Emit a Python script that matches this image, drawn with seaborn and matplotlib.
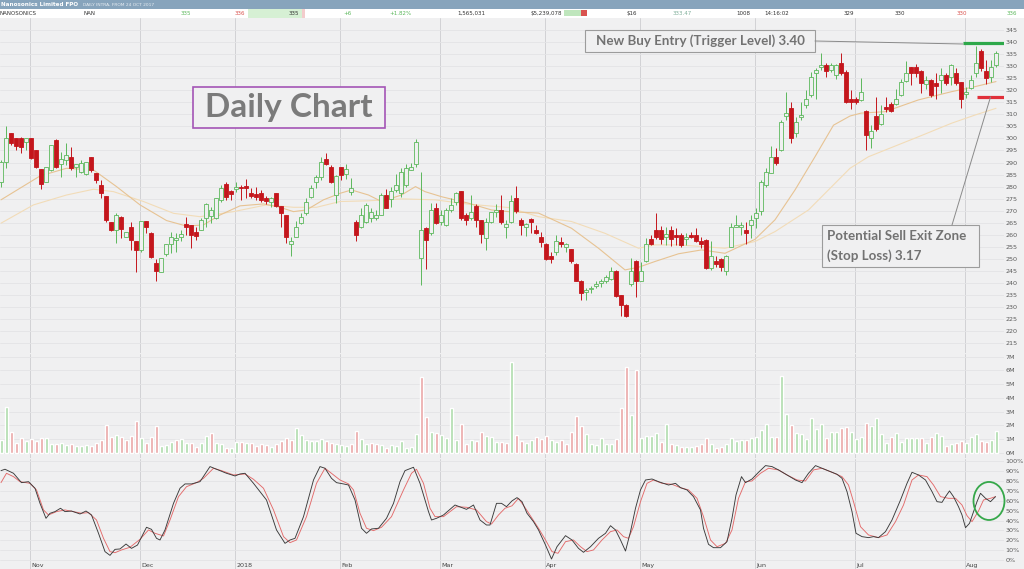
import matplotlib
matplotlib.use('Agg')
import matplotlib.pyplot as plt
import seaborn as sns
import numpy as np
from matplotlib.patches import Rectangle, Ellipse
from matplotlib.lines import Line2D

# ---- data (daily, 24 Oct 2017 .. 8 Aug 2018) ----
opens = [
    282.0, 290.4, 302.4, 300.0, 300.3, 298.7, 300.3, 295.2, 287.2, 282.1,
    286.9, 299.4, 289.4, 291.0, 292.2, 288.3, 286.2, 285.2, 292.2, 285.8,
    280.7, 276.1, 265.1, 262.0, 267.3, 259.2, 263.4, 257.2, 253.7, 265.9,
    260.6, 248.2, 244.7, 252.1, 256.2, 257.9, 259.2, 264.4, 264.1, 261.3,
    262.0, 266.9, 267.6, 266.9, 274.5, 281.1, 278.3, 278.9, 280.0, 280.3,
    277.2, 276.9, 277.2, 275.4, 273.8, 277.2, 272.0, 268.2, 256.2, 259.2,
    265.0, 268.9, 275.8, 282.1, 284.1, 291.3, 288.3, 276.5, 288.3, 285.1,
    277.9, 265.5, 263.4, 265.2, 266.9, 267.1, 268.2, 276.3, 274.9, 278.6,
    277.2, 280.7, 286.9, 289.3, 250.3, 263.0, 260.6, 271.3, 265.2, 264.1,
    270.3, 273.8, 278.2, 268.2, 267.1, 272.1, 266.2, 258.8, 265.2, 269.6,
    270.3, 263.4, 265.1, 275.2, 266.2, 263.4, 266.4, 262.0, 259.0, 256.2,
    251.2, 253.0, 257.0, 255.1, 254.0, 247.9, 241.0, 236.3, 237.4, 238.8,
    239.9, 241.0, 241.5, 245.1, 235.0, 230.9, 239.6, 248.9, 241.0, 248.9,
    258.1, 262.0, 262.0, 259.0, 262.0, 259.9, 260.0, 258.1, 259.9, 259.9,
    257.2, 257.9, 246.1, 249.3, 249.8, 245.1, 255.1, 263.4, 263.4, 262.0,
    264.1, 266.9, 270.0, 280.7, 285.8, 292.2, 295.2, 309.3, 312.5, 302.1,
    308.8, 313.9, 318.0, 327.0, 329.8, 330.5, 328.4, 326.3, 331.2, 327.7,
    316.2, 316.2, 316.0, 311.5, 300.0, 309.3, 306.0, 313.2, 314.3, 314.3,
    318.0, 324.0, 329.5, 329.5, 328.1, 322.6, 324.3, 322.9, 324.3, 326.3,
    325.4, 327.3, 323.6, 318.4, 320.8, 327.0, 336.4, 328.1, 325.4, 330.5,
]
highs = [
    291.0, 305.2, 302.4, 300.0, 300.7, 300.0, 300.3, 295.2, 287.2, 288.3,
    297.3, 299.6, 294.5, 298.0, 296.6, 289.3, 291.0, 290.4, 292.2, 285.8,
    282.8, 276.1, 265.1, 268.9, 267.6, 261.3, 265.5, 257.2, 265.9, 265.9,
    261.3, 249.8, 250.3, 256.2, 261.3, 260.6, 262.0, 267.3, 264.1, 263.4,
    266.9, 273.1, 271.7, 275.2, 280.7, 282.1, 278.6, 282.1, 280.7, 283.0,
    279.3, 280.0, 278.6, 276.1, 275.8, 277.2, 272.0, 268.2, 259.2, 265.9,
    268.9, 275.2, 280.7, 284.8, 292.2, 294.1, 289.0, 285.0, 288.3, 289.3,
    283.5, 266.2, 271.0, 273.1, 271.0, 270.3, 277.2, 279.0, 280.0, 285.1,
    287.6, 289.3, 289.7, 299.8, 286.0, 263.4, 273.1, 273.1, 270.3, 271.0,
    275.2, 277.9, 278.2, 268.9, 276.3, 272.7, 266.2, 266.9, 269.6, 272.8,
    276.3, 266.2, 276.5, 280.3, 266.9, 264.8, 266.9, 264.1, 261.3, 256.5,
    253.0, 259.9, 259.0, 256.5, 254.0, 248.2, 241.3, 237.8, 238.8, 240.6,
    241.6, 243.3, 246.8, 245.4, 235.0, 231.3, 250.3, 249.6, 248.5, 258.6,
    259.9, 269.2, 263.7, 263.4, 263.7, 262.7, 260.6, 260.6, 261.3, 262.7,
    259.0, 258.1, 257.2, 251.0, 250.3, 251.6, 264.8, 268.2, 265.5, 265.5,
    268.2, 271.0, 282.8, 287.6, 296.9, 295.9, 307.6, 319.4, 315.3, 309.0,
    315.3, 320.1, 327.7, 329.1, 335.6, 331.2, 331.2, 330.9, 335.3, 328.4,
    320.1, 317.1, 324.9, 311.8, 305.6, 317.3, 313.9, 317.1, 315.3, 320.4,
    324.5, 332.3, 329.8, 330.9, 328.4, 325.9, 324.5, 327.0, 329.1, 327.0,
    330.9, 329.1, 323.6, 321.5, 326.3, 338.4, 337.0, 332.6, 332.6, 336.4,
]
lows = [
    280.0, 287.6, 297.3, 295.2, 294.1, 295.2, 291.3, 287.6, 278.9, 281.7,
    286.6, 287.6, 284.1, 289.0, 286.9, 284.1, 285.5, 284.8, 286.2, 281.4,
    275.2, 265.5, 261.7, 256.5, 258.6, 259.0, 253.7, 244.7, 253.0, 260.6,
    250.2, 241.0, 244.5, 251.0, 252.3, 253.0, 257.2, 259.9, 254.4, 257.9,
    262.0, 263.4, 264.8, 266.4, 273.8, 274.5, 274.5, 277.9, 274.5, 275.2,
    275.2, 274.5, 273.8, 272.8, 271.7, 271.7, 263.4, 256.5, 251.2, 259.2,
    264.5, 268.2, 275.2, 279.3, 282.8, 289.0, 281.4, 273.0, 282.8, 283.2,
    276.5, 257.2, 262.7, 264.8, 265.5, 266.2, 268.0, 271.0, 271.7, 277.9,
    275.8, 280.0, 286.9, 288.3, 239.2, 245.8, 259.9, 264.4, 264.1, 263.8,
    269.6, 272.4, 266.2, 264.1, 266.2, 263.4, 256.5, 253.7, 264.8, 267.5,
    264.4, 258.6, 264.8, 268.9, 259.9, 259.3, 260.6, 260.4, 255.1, 249.6,
    248.2, 251.6, 255.1, 253.0, 248.2, 240.6, 233.0, 233.0, 236.0, 237.8,
    238.2, 239.9, 241.3, 234.1, 226.1, 225.8, 238.8, 234.1, 240.6, 248.5,
    255.8, 258.1, 256.2, 255.8, 255.4, 255.8, 255.1, 255.8, 258.6, 256.8,
    254.4, 245.7, 245.4, 246.8, 245.1, 243.3, 254.8, 263.4, 260.0, 256.2,
    258.6, 262.7, 268.2, 280.0, 285.5, 289.0, 294.9, 307.6, 298.0, 300.7,
    307.6, 312.5, 317.3, 316.2, 328.4, 325.4, 327.7, 324.5, 326.3, 314.6,
    312.1, 314.3, 315.7, 295.2, 295.9, 303.2, 305.6, 311.1, 311.1, 313.9,
    317.6, 323.6, 322.2, 325.4, 319.0, 320.4, 317.3, 316.2, 318.7, 322.2,
    322.2, 322.2, 312.5, 316.6, 320.4, 325.4, 328.1, 322.6, 323.6, 329.8,
]
closes = [
    290.4, 300.0, 298.0, 296.9, 296.6, 300.0, 291.8, 288.0, 281.1, 288.3,
    297.3, 288.3, 291.3, 293.1, 287.6, 289.3, 289.7, 290.4, 286.9, 282.8,
    277.2, 266.2, 262.0, 268.2, 262.3, 261.3, 257.9, 253.7, 265.9, 263.4,
    250.9, 245.1, 250.3, 256.2, 259.2, 258.6, 260.4, 263.4, 259.9, 259.5,
    266.2, 272.8, 270.3, 275.2, 279.3, 275.8, 277.0, 280.0, 279.3, 279.3,
    276.1, 275.8, 274.5, 274.2, 275.2, 272.0, 269.2, 259.2, 257.2, 263.1,
    267.3, 273.8, 279.3, 284.1, 290.4, 289.4, 282.1, 284.5, 284.8, 287.3,
    279.3, 259.9, 268.2, 272.4, 269.4, 268.2, 276.5, 271.3, 278.2, 280.7,
    286.2, 287.6, 288.3, 298.7, 262.0, 257.9, 270.3, 264.8, 268.2, 270.3,
    272.4, 277.2, 266.9, 266.2, 269.4, 266.2, 260.2, 265.2, 269.4, 270.3,
    265.2, 264.4, 274.2, 270.0, 264.1, 264.4, 265.1, 260.9, 256.8, 250.1,
    250.1, 257.2, 256.2, 256.1, 248.9, 241.0, 236.0, 237.1, 237.8, 239.6,
    240.6, 242.3, 245.1, 234.6, 230.9, 226.1, 245.1, 241.0, 245.1, 256.2,
    256.2, 259.0, 258.1, 260.4, 258.1, 259.0, 255.8, 258.9, 259.2, 257.6,
    256.2, 246.1, 251.2, 247.9, 246.8, 251.2, 263.1, 264.1, 264.1, 260.9,
    266.2, 269.2, 282.1, 286.2, 292.4, 289.9, 307.0, 310.4, 300.0, 307.0,
    309.7, 316.2, 325.4, 328.4, 330.5, 328.1, 330.5, 330.5, 327.3, 315.3,
    315.3, 315.3, 319.4, 301.4, 303.2, 303.8, 310.1, 312.1, 311.5, 316.2,
    323.6, 327.0, 327.3, 327.3, 323.2, 324.3, 318.0, 321.8, 326.3, 322.9,
    330.5, 323.2, 316.2, 319.4, 324.3, 331.4, 329.1, 324.9, 329.5, 335.3,
]
volume_m = [
    0.92, 3.36, 1.48, 0.68, 1.05, 0.85, 1.00, 0.85, 1.05, 1.10,
    0.61, 0.61, 0.68, 0.56, 0.63, 0.49, 0.51, 0.56, 0.51, 0.68,
    0.92, 2.02, 1.17, 1.29, 1.17, 0.92, 1.22, 2.31, 1.10, 0.73,
    1.17, 1.97, 0.51, 0.56, 0.75, 0.92, 1.00, 0.68, 0.68, 0.44,
    0.68, 1.24, 1.41, 0.68, 0.61, 0.32, 0.36, 0.75, 0.80, 0.73,
    0.68, 0.49, 0.61, 0.56, 0.44, 0.61, 0.85, 1.05, 0.92, 1.82,
    1.29, 0.92, 0.85, 0.85, 1.00, 0.85, 0.68, 0.61, 0.56, 0.51,
    0.61, 1.58, 1.00, 0.61, 0.68, 0.61, 0.56, 0.32, 0.56, 0.51,
    0.85, 0.36, 0.44, 1.34, 5.55, 2.63, 1.48, 1.46, 1.29, 1.10,
    3.28, 0.92, 2.07, 0.61, 0.92, 0.85, 1.48, 1.22, 1.17, 0.75,
    0.75, 0.68, 6.59, 1.29, 0.85, 0.68, 0.92, 1.17, 1.00, 1.22,
    0.92, 0.80, 0.92, 0.61, 1.48, 2.70, 1.97, 1.34, 0.61, 0.56,
    1.05, 0.61, 0.61, 1.00, 3.28, 6.28, 2.75, 6.03, 1.10, 1.22,
    1.24, 1.41, 0.75, 2.07, 0.63, 0.56, 0.44, 0.44, 0.44, 0.51,
    0.61, 1.05, 0.61, 0.36, 0.44, 0.61, 1.10, 0.85, 0.92, 0.92,
    1.05, 1.17, 1.65, 2.07, 1.17, 1.17, 5.60, 2.80, 2.02, 1.41,
    1.36, 1.00, 2.50, 1.73, 2.07, 1.10, 1.48, 1.48, 1.78, 1.90,
    1.53, 0.97, 1.17, 2.14, 1.97, 2.50, 1.34, 0.68, 1.17, 1.41,
    0.80, 1.10, 1.10, 1.05, 1.05, 0.73, 1.17, 1.41, 1.22, 0.51,
    0.61, 0.68, 0.85, 0.68, 1.17, 1.34, 0.85, 0.75, 0.92, 1.58,
]

# moving averages
ma_fast_x = [0, 7.8, 13.1, 18.5, 23.1, 27.8, 33.1, 37.1, 40.5, 43.8, 47.8, 52.5, 55.8, 58.5, 61.1,
             64.5, 67.8, 70.1, 73.5, 76.1, 80.1, 82.9, 84.8, 88.1, 93.5, 98.1, 101.5, 107.5, 114.1,
             119.5, 124.8, 127.5, 130.8, 135.5, 140.1, 144.8, 150.8, 154.8, 158.8, 162.8, 166.5,
             169.8, 172.0, 176.8, 183.5, 190.1, 194.8, 199]
ma_fast_y = [274.5, 284.4, 287.6, 286.9, 280.0, 272.4, 265.9, 263.6, 264.1, 268.2, 272.0, 272.8, 271.4,
             269.6, 270.3, 274.5, 277.2, 278.6, 276.5, 273.8, 276.5, 280.0, 277.9, 275.8, 273.1, 270.3,
             269.6, 269.0, 262.7, 254.4, 245.4, 246.5, 248.9, 252.1, 253.7, 252.3, 258.1, 266.2, 278.6,
             292.4, 305.5, 309.3, 310.5, 311.1, 316.0, 319.4, 321.5, 323.6]
ma_slow_x = [0, 6.5, 13.1, 18.5, 22.5, 28.5, 34.5, 39.8, 46.5, 53.1, 58.5, 63.1, 67.8, 73.5, 80.1,
             86.8, 93.5, 101.5, 107.5, 114.1, 120.8, 127.5, 130.8, 135.5, 144.8, 150.8, 154.8, 161.5,
             169.8, 173.5, 183.5, 190.1, 194.8, 199]
ma_slow_y = [264.8, 272.4, 276.5, 278.9, 277.9, 273.8, 268.9, 267.5, 269.6, 272.4, 271.4, 271.4, 273.8,
             274.1, 274.9, 274.5, 272.7, 271.3, 267.5, 265.5, 260.6, 254.4, 255.8, 255.8, 254.4, 257.2,
             261.3, 270.3, 287.6, 292.4, 300.7, 306.3, 309.7, 312.5]

# stochastic %K (black) and %D (red)
stoch_k_x = [0, 0.8, 2.5, 4.1, 5.5, 6.8, 7.8, 9.0, 9.8, 10.8, 11.9, 12.8, 14.1, 15.8, 17.0, 18.1, 19.5,
             20.8, 21.8, 22.8, 23.8, 25.0, 26.1, 27.3, 29.1, 30.1, 31.1, 31.8, 32.8, 34.5, 35.8, 36.8,
             38.1, 39.8, 41.8, 43.1, 45.1, 46.8, 47.8, 48.8, 50.5, 53.1, 55.1, 56.8, 57.8, 58.8, 60.5,
             62.5, 63.8, 64.8, 66.1, 67.1, 68.5, 69.5, 70.8, 72.1, 73.1, 74.1, 75.5, 77.1, 78.5, 79.8,
             80.8, 82.5, 83.8, 85.5, 86.1, 87.1, 88.5, 90.8, 93.1, 94.5, 95.8, 97.1, 97.8, 99.1, 100.1,
             101.1, 102.2, 103.2, 104.2, 105.2, 106.5, 107.5, 108.9, 110.1, 111.2, 112.9, 114.2, 115.5,
             116.5, 117.9, 119.5, 120.9, 121.9, 122.9, 123.9, 124.9, 125.9, 126.9, 127.9, 128.9, 130.2,
             131.5, 133.5, 134.9, 135.9, 137.2, 138.5, 139.9, 140.5, 141.5, 142.5, 143.9, 145.2, 146.2,
             147.0, 148.1, 148.9, 150.2, 151.5, 152.9, 154.2, 155.5, 157.2, 158.9, 160.2, 161.5, 162.9,
             164.2, 165.9, 167.2, 168.2, 169.2, 170.2, 171.0, 172.2, 173.5, 174.5, 175.5, 176.9, 178.2,
             179.9, 181.2, 182.2, 183.5, 184.9, 186.2, 187.2, 188.2, 188.9, 189.7, 190.5, 191.5, 192.2,
             192.9, 193.7, 194.5, 195.2, 195.9, 196.9, 197.9, 198.9]
stoch_k_y = [90.7, 92.1, 88.0, 78.5, 79.5, 72.8, 57.5, 42.3, 47.4, 49.1, 52.5, 49.1, 49.7, 46.7, 49.7,
             45.7, 27.1, 8.5, 4.7, 10.8, 11.2, 16.2, 11.8, 15.2, 33.2, 31.1, 22.0, 20.3, 30.5, 57.5,
             72.8, 77.2, 77.2, 79.5, 94.8, 92.1, 88.0, 85.3, 87.3, 88.0, 77.8, 60.9, 30.5, 16.9, 20.3,
             22.0, 44.0, 81.2, 94.8, 93.1, 82.9, 78.5, 77.2, 76.1, 60.9, 32.2, 27.1, 31.5, 32.2, 42.3,
             57.5, 79.5, 90.7, 94.1, 77.8, 49.1, 40.6, 42.3, 45.7, 55.8, 51.4, 55.8, 40.6, 35.5, 35.5,
             57.5, 57.5, 54.1, 60.0, 63.3, 59.2, 47.4, 38.9, 30.5, 15.2, 1.0, 13.5, 24.7, 20.3, 11.8,
             7.8, 13.5, 22.0, 27.1, 34.8, 30.5, 20.3, 9.1, 28.8, 52.5, 71.1, 81.2, 82.2, 79.5, 76.1,
             77.8, 73.4, 71.1, 64.3, 50.8, 32.2, 15.9, 12.5, 12.5, 18.6, 42.3, 66.0, 84.6, 78.5, 82.2,
             89.0, 95.8, 94.8, 91.4, 86.3, 81.2, 78.5, 88.0, 95.8, 93.1, 89.7, 87.0, 82.9, 69.4, 49.1,
             27.1, 23.7, 22.7, 23.7, 22.7, 28.8, 40.6, 60.9, 77.8, 89.0, 86.3, 81.2, 69.4, 59.2, 58.5,
             64.3, 70.1, 64.3, 54.1, 45.7, 32.8, 37.2, 49.1, 59.2, 67.7, 62.6, 59.2, 64.3]
stoch_d_x = [0, 1.1, 2.5, 3.8, 5.8, 7.1, 8.5, 9.5, 11.1, 12.8, 14.5, 16.1, 17.5, 19.1, 20.5, 21.8, 22.8,
             24.1, 25.8, 27.8, 29.5, 30.8, 32.5, 33.8, 35.5, 37.1, 39.1, 40.5, 42.5, 44.1, 46.5, 48.8,
             50.5, 52.5, 54.5, 56.5, 57.8, 59.1, 61.1, 63.1, 64.8, 66.1, 67.8, 69.5, 70.5, 71.8, 73.1,
             74.5, 76.1, 78.1, 80.5, 82.1, 83.1, 84.5, 85.8, 86.8, 88.5, 91.1, 93.1, 95.1, 97.1, 98.1,
             99.5, 100.8, 102.2, 103.5, 104.9, 106.2, 107.5, 108.9, 110.2, 111.4, 112.9, 114.5, 115.9,
             117.2, 118.5, 120.2, 121.9, 123.2, 124.5, 125.5, 126.5, 127.9, 129.2, 130.5, 132.2, 134.2,
             135.9, 137.5, 139.2, 140.5, 141.9, 143.2, 144.9, 146.2, 147.5, 148.9, 150.2, 151.9, 153.5,
             155.5, 157.2, 159.2, 160.9, 162.5, 164.2, 166.2, 168.2, 169.5, 170.5, 171.9, 173.5, 175.5,
             177.2, 178.9, 180.5, 182.2, 183.5, 185.2, 186.5, 187.9, 189.5, 190.9, 192.2, 193.2, 194.2,
             195.5, 196.5, 197.9, 198.9]
stoch_d_y = [78.5, 88.0, 84.6, 79.5, 77.8, 71.1, 50.8, 45.7, 49.1, 50.8, 49.1, 47.4, 48.1, 40.6, 22.0,
             8.5, 7.4, 10.2, 12.9, 21.0, 30.5, 27.1, 24.4, 40.6, 64.3, 74.4, 78.5, 82.9, 93.1, 90.7,
             86.3, 87.3, 81.9, 72.8, 50.8, 23.7, 17.6, 20.3, 44.0, 77.8, 93.1, 88.0, 81.2, 77.2, 71.1,
             47.4, 32.2, 29.8, 33.2, 44.0, 71.1, 88.0, 92.1, 77.8, 52.5, 44.0, 44.0, 54.1, 53.5, 50.8,
             38.9, 36.5, 45.7, 52.5, 55.0, 62.6, 52.5, 42.3, 32.2, 20.3, 8.5, 6.8, 18.6, 20.3, 13.5,
             8.5, 10.2, 20.3, 28.8, 30.5, 23.7, 22.0, 33.8, 59.2, 77.8, 81.2, 77.8, 76.8, 73.4, 71.1,
             62.6, 44.0, 20.3, 13.5, 16.9, 30.5, 62.6, 79.5, 80.2, 88.0, 93.1, 91.4, 86.3, 81.2, 80.2,
             91.4, 93.1, 89.0, 84.6, 76.1, 59.2, 33.8, 25.4, 22.7, 25.4, 38.9, 55.8, 81.2, 86.3, 84.6,
             76.1, 64.3, 62.6, 62.6, 55.8, 45.0, 38.9, 49.7, 60.9, 62.6, 64.3]

month_names = ['Nov', 'Dec', '2018', 'Feb', 'Mar', 'Apr', 'May', 'Jun', 'Jul', 'Aug']
month_start = [6, 28, 47, 68, 88, 109, 128, 151, 171, 193]

price_ticks = list(range(215, 350, 5))
volume_ticks = list(range(0, 8))
stoch_ticks = list(range(0, 101, 10))

buy_level = 339.5
stop_level = 317.4

# ---- style ----
BG = '#f0f0f1'
GRID = '#e4e4e6'
VGRID = '#d2d2d5'
UP = '#5cb85c'
DOWN = '#c4161c'
VOL_UP = '#aedcab'
VOL_DOWN = '#eaa6a6'
W, H = 1024, 569

sns.set_style('white', {'axes.facecolor': BG, 'figure.facecolor': BG})
plt.rcParams['font.family'] = ['DejaVu Sans']


def fx(x):
    return x / W


def fy(y):
    return 1 - y / H


fig = plt.figure(figsize=(W / 100, H / 100), dpi=100, facecolor=BG)


def panel(top, bottom):
    ax = fig.add_axes([0, fy(bottom), fx(1004), (bottom - top) / H])
    ax.set_facecolor(BG)
    for s in ax.spines.values():
        s.set_visible(False)
    ax.set_xlim(-0.2, 200.6)
    ax.set_xticks([])
    ax.yaxis.tick_right()
    ax.tick_params(axis='y', length=0, pad=1, labelsize=4.6, labelcolor='#5a5a5a')
    ax.grid(axis='y', color=GRID, lw=0.6)
    ax.set_axisbelow(True)
    for m in month_start:
        ax.axvline(m - 0.2, color=VGRID, lw=0.7, zorder=0.5)
    return ax


ax_p = panel(18, 353)
ax_v = panel(354, 458)
ax_s = panel(459, 569)

idx = np.arange(len(closes))

# price panel
ax_p.set_ylim(210.9, 350.0)
ax_p.set_yticks(price_ticks)
ax_p.set_yticklabels([str(t) for t in price_ticks])

sns.lineplot(x=ma_slow_x, y=ma_slow_y, ax=ax_p, color='#f2dcb8', lw=0.8, zorder=1)
sns.lineplot(x=ma_fast_x, y=ma_fast_y, ax=ax_p, color='#e7c393', lw=0.8, zorder=1)

for i in idx:
    o, h, l, c = opens[i], highs[i], lows[i], closes[i]
    up = c >= o
    col = UP if up else DOWN
    ax_p.vlines(i, l, h, color=col, lw=0.7, zorder=2)
    body = max(abs(c - o), 0.35)
    ax_p.bar(i, body, bottom=min(o, c), width=0.64, facecolor=BG if up else DOWN,
             edgecolor=col, lw=0.6, zorder=3)

ax_p.hlines(buy_level, 192.4, 200.6, color='#2ea84a', lw=2.3, zorder=4)
ax_p.hlines(stop_level, 195.2, 200.6, color='#e0303a', lw=2.3, zorder=4)

# volume panel
vol_colors = [VOL_UP] + [VOL_UP if closes[i] >= closes[i - 1] else VOL_DOWN for i in idx[1:]]
ax_v.set_ylim(-0.39, 7.2)
ax_v.bar(idx, volume_m, width=0.6, color=vol_colors, zorder=2)
ax_v.set_yticks(volume_ticks)
ax_v.set_yticklabels([f'{t}M' for t in volume_ticks])

# stochastic panel
ax_s.set_ylim(-9.14, 102.5)
ax_s.set_yticks(stoch_ticks)
ax_s.set_yticklabels([f'{t}%' for t in stoch_ticks])
sns.lineplot(x=stoch_d_x, y=stoch_d_y, ax=ax_s, color='#e36a6a', lw=0.65, zorder=2)
sns.lineplot(x=stoch_k_x, y=stoch_k_y, ax=ax_s, color='#3a3a3a', lw=0.65, zorder=3)
ax_s.add_patch(Ellipse((197.6, 59.9), 6.2, 38.6, fill=False, edgecolor='#36a84a', lw=1.3,
                       clip_on=False, zorder=4))

for name, m in zip(month_names, month_start):
    ax_s.text(m + 0.05, 0.036, name, transform=ax_s.get_xaxis_transform(), fontsize=4.6,
              color='#444444', ha='left', va='center')

for ax in (ax_p, ax_v, ax_s):
    ax.set_xlabel('')
    ax.set_ylabel('')

# header bar and quote row
fig.add_artist(Rectangle((0, fy(9)), 1, 9 / H, transform=fig.transFigure,
                         facecolor='#87a4bc', edgecolor='none', zorder=5))
fig.add_artist(Rectangle((0, fy(17.5)), 1, 8.5 / H, transform=fig.transFigure,
                         facecolor='white', edgecolor='none', zorder=5))
fig.add_artist(Rectangle((fx(248), fy(17.5)), fx(54), 8.5 / H, transform=fig.transFigure,
                         facecolor='#d6f0d4', edgecolor='none', zorder=5))
fig.add_artist(Rectangle((fx(302), fy(17.5)), fx(3), 8.5 / H, transform=fig.transFigure,
                         facecolor='#f3cccc', edgecolor='none', zorder=5))
fig.add_artist(Rectangle((fx(564), fy(16)), fx(17), 6 / H, transform=fig.transFigure,
                         facecolor='#bfe6bd', edgecolor='none', zorder=5))
fig.add_artist(Rectangle((fx(581), fy(16)), fx(6), 6 / H, transform=fig.transFigure,
                         facecolor='#d9534f', edgecolor='none', zorder=5))

fig.text(fx(1), fy(4.5), 'Nanosonics Limited FPO', fontsize=4.1, fontweight='bold',
         color='white', va='center', zorder=6)
fig.text(fx(83), fy(4.5), 'DAILY INTRA, FROM 24 OCT 2017', fontsize=3.2, color='#e8eef3',
         va='center', zorder=6)

quote = [(0, 'NANOSONICS', '#333333', 'left'), (83, 'NAN', '#333333', 'left'),
         (191, '335', '#5cb85c', 'right'), (245, '336', '#d9534f', 'right'),
         (299, '335', '#333333', 'right'), (352, '+6', '#5cb85c', 'right'),
         (412, '+1.82%', '#5cb85c', 'right'), (485, '1,565,031', '#333333', 'right'),
         (562, '$5,239,078', '#333333', 'right'), (637, '$16', '#333333', 'right'),
         (692, '333.47', '#7fae9a', 'right'), (750, '1008', '#333333', 'right'),
         (789, '14:16:02', '#333333', 'right'), (854, '329', '#333333', 'right'),
         (905, '330', '#333333', 'right'), (967, '330', '#d9534f', 'right'),
         (1017, '336', '#5cb85c', 'right')]
for x, s, col, ha in quote:
    fig.text(fx(x), fy(13.2), s, fontsize=4.0, color=col, ha=ha, va='center', zorder=6)

# annotations
fig.add_artist(Rectangle((fx(193), fy(128)), fx(192), 41 / H, transform=fig.transFigure,
                         facecolor=BG, edgecolor='#a455b6', lw=1.2, zorder=6))
fig.text(fx(289), fy(107.5), 'Daily Chart', fontsize=24, fontweight='bold', color='#7b7b7b',
         family=['Lato', 'DejaVu Sans'], ha='center', va='center', zorder=7)

fig.add_artist(Rectangle((fx(585), fy(52)), fx(230), 22 / H, transform=fig.transFigure,
                         facecolor=BG, edgecolor='#9c9c9c', lw=0.8, zorder=6))
fig.text(fx(700), fy(41), 'New Buy Entry (Trigger Level) 3.40', fontsize=9.6, fontweight='bold',
         color='#727272', family=['Lato', 'DejaVu Sans'], ha='center', va='center', zorder=7)

fig.add_artist(Rectangle((fx(822), fy(267)), fx(157), 42 / H, transform=fig.transFigure,
                         facecolor=BG, edgecolor='#9c9c9c', lw=0.8, zorder=6))
fig.text(fx(827), fy(236), 'Potential Sell Exit Zone', fontsize=9.6, fontweight='bold',
         color='#727272', family=['Lato', 'DejaVu Sans'], ha='left', va='center', zorder=7)
fig.text(fx(827), fy(256), '(Stop Loss) 3.17', fontsize=9.6, fontweight='bold',
         color='#727272', family=['Lato', 'DejaVu Sans'], ha='left', va='center', zorder=7)

fig.add_artist(Line2D([fx(815), fx(963)], [fy(41), fy(44)], transform=fig.transFigure,
                      color='#8a8a8a', lw=0.7, zorder=6))
fig.add_artist(Line2D([fx(990.5), fx(952)], [fy(97), fy(225)], transform=fig.transFigure,
                      color='#8a8a8a', lw=0.7, zorder=6))

fig.savefig('out.png', dpi=100, facecolor=BG)
